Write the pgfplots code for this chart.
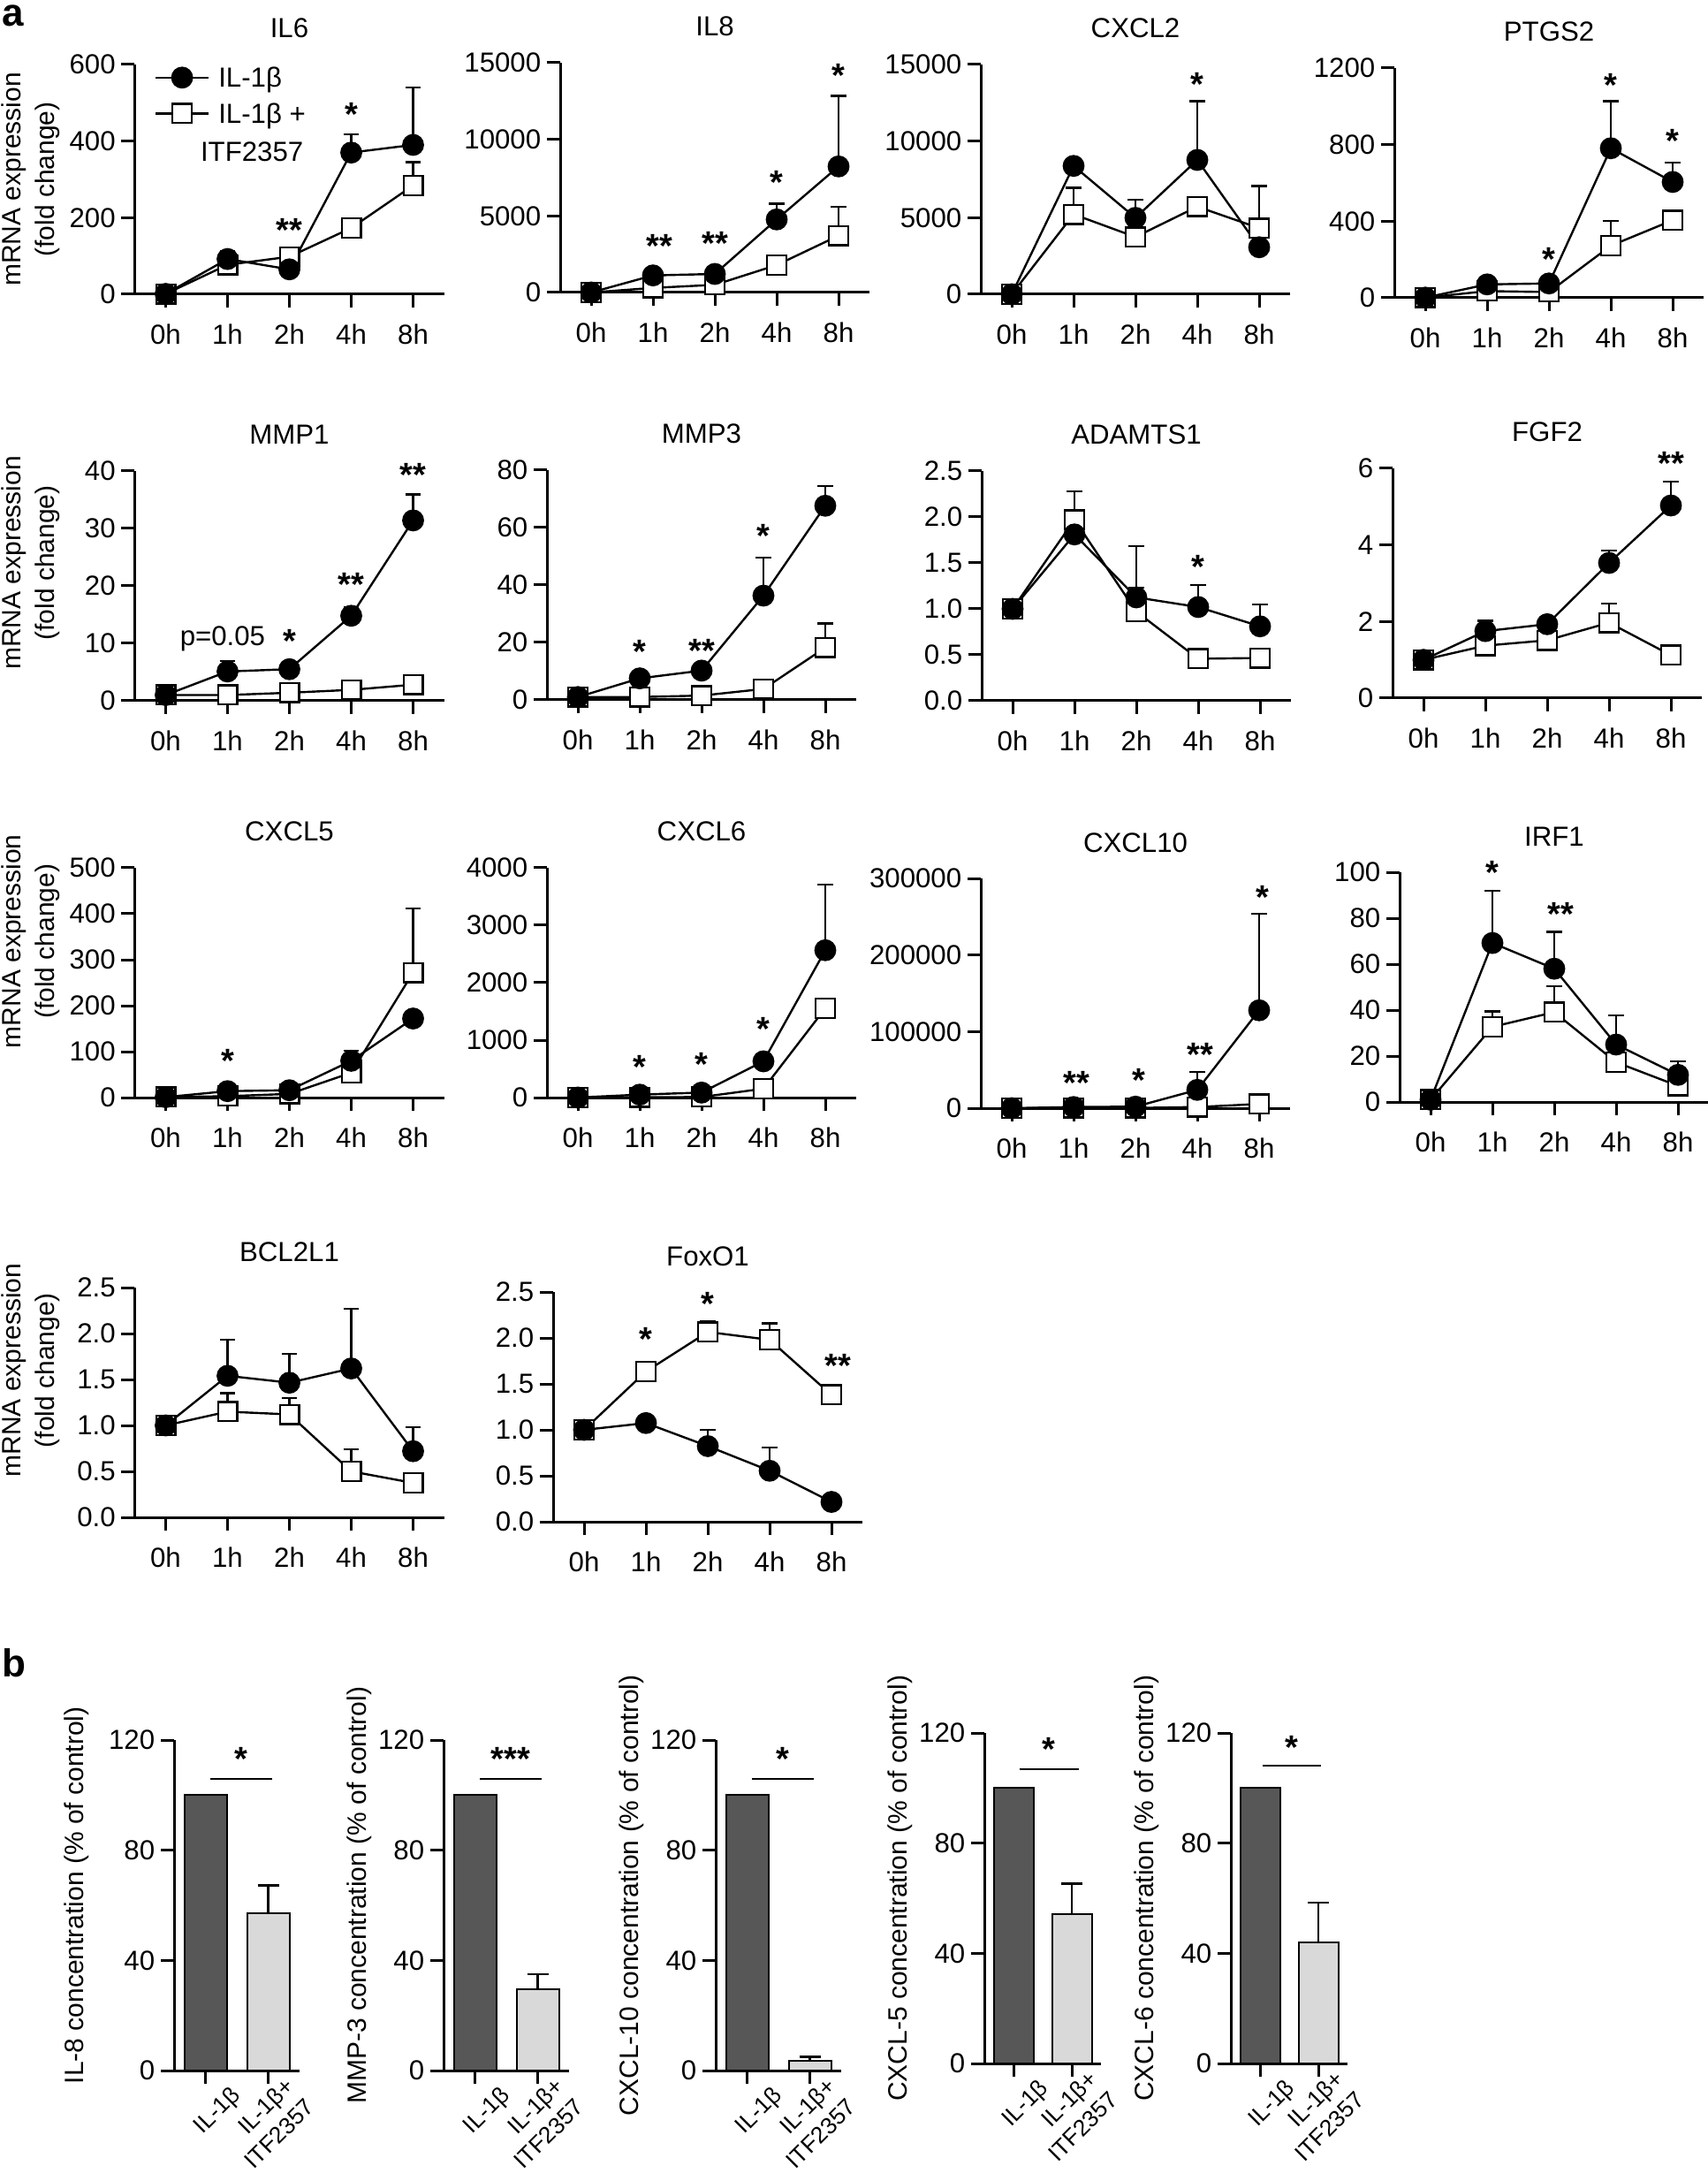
\documentclass[border=0pt]{standalone}
\usepackage{fontspec}
\setmainfont{Liberation Sans}
\usepackage{pgfplots}
\usepackage{pgfplotstable}
\pgfplotsset{compat=1.18}
\newcommand\tk{\fontsize{7.8}{9}\selectfont}
\newcommand\tkb{\fontsize{6.6}{8.2}\selectfont}
\newcommand\lab{\fontsize{7.5}{9.5}\selectfont}
\newcommand\stf{\bfseries\fontsize{9.5}{10}\selectfont}
\definecolor{bardark}{HTML}{575757}
\definecolor{barlight}{HTML}{D9D9D9}

% x: 0h,1h,2h,4h,8h -> 0..4 ; c = IL-1b (circles), s = IL-1b+ITF2357 (squares)
\pgfplotstableread{
x c ce s se
0 1 0 1 0
1 92 21 77 0
2 65 0 98 0
3 370 48 173 0
4 390 150 284 61
}\tA
\pgfplotstableread{
x c ce s se
0 1 0 1 0
1 1115 0 300 0
2 1211 0 500 0
3 4770 1020 1790 0
4 8230 4600 3710 1900
}\tB
\pgfplotstableread{
x c ce s se
0 1 0 1 0
1 8380 0 5220 1740
2 4990 1190 3740 0
3 8770 3830 5720 0
4 3070 0 4320 2740
}\tC
\pgfplotstableread{
x c ce s se
0 1 0 1 0
1 70 0 35 0
2 75 0 30 0
3 781 246 272 130
4 605 102 405 49
}\tD
\pgfplotstableread{
x c ce s se
0 1 0 1 0
1 5.1 1.8 1.0 0
2 5.5 0 1.4 0
3 14.8 1.4 1.9 0
4 31.4 4.5 2.8 0
}\tE
\pgfplotstableread{
x c ce s se
0 1 0 1 0
1 7.5 2.4 1.0 0
2 10.2 0 1.5 0
3 36.3 13.2 3.8 0
4 67.6 6.8 18.2 8.4
}\tF
\pgfplotstableread{
x c ce s se
0 1 0 1 0
1 1.81 0 1.97 0.31
2 1.125 0.56 0.97 0.26
3 1.02 0.24 0.457 0
4 0.81 0.24 0.466 0
}\tG
\pgfplotstableread{
x c ce s se
0 1 0 1 0
1 1.75 0.27 1.37 0
2 1.93 0 1.51 0
3 3.53 0.33 1.97 0.5
4 5.03 0.63 1.12 0
}\tH
\pgfplotstableread{
x c ce s se
0 1 0 1 0
1 14 0 3 0
2 16 0 8 0
3 80 22 54 0
4 172 0 272 140
}\tI
\pgfplotstableread{
x c ce s se
0 1 0 1 0
1 51 0 5 0
2 87 0 10 0
3 631 0 154 0
4 2565 1139 1554 0
}\tJ
\pgfplotstableread{
x c ce s se
0 1 0 1 0
1 1500 0 200 0
2 2000 0 300 0
3 23900 23100 1500 0
4 127800 125900 5500 0
}\tK
\pgfplotstableread{
x c ce s se
0 1 0 1 0
1 69.2 22.8 32.7 6.8
2 58 16 39.1 11.3
3 25 12.8 17.3 0
4 11.8 5.8 7 0
}\tL
\pgfplotstableread{
x c ce s se
0 1 0 1 0
1 1.54 0.39 1.15 0.2
2 1.465 0.315 1.12 0.18
3 1.62 0.65 0.50 0.24
4 0.72 0.26 0.375 0
}\tM
\pgfplotstableread{
x c ce s se
0 1 0 1 0
1 1.074 0 1.635 0
2 0.823 0.18 2.065 0.12
3 0.555 0.25 1.98 0.18
4 0.216 0 1.38 0
}\tN

\tikzset{st/.style={font=\stf, inner sep=0pt, anchor=center, yshift=-1.8pt}}
\pgfplotsset{
  gpbase/.style={
    scale only axis, clip=false, anchor=south west,
    axis x line*=bottom, axis y line*=left,
    axis line style={-, line width=0.75pt, black},
    tick style={line width=0.75pt, black},
    tick align=outside, major tick length=3.75pt,
    minor tick num=0, scaled y ticks=false,
    ticklabel style={font=\tk},
    yticklabel style={inner sep=0pt, xshift=-1.5pt},
    ymin=0,
    every axis title/.style={at={(0.5,1)}, anchor=base, yshift=7.5pt, font=\tk},
  },
  gpa/.style={gpbase, width=87.5pt, height=65pt, xmin=-0.5, xmax=4.5,
    xtick={0,1,2,3,4}, xticklabels={0h,1h,2h,4h,8h},
    xticklabel style={inner sep=0pt, text height=5.58pt, text depth=0pt, yshift=-4.6pt}},
  rowlab/.style={ylabel={mRNA expression\\(fold change)},
    every axis y label/.style={at={(axis description cs:0,#1)}, xshift=-29.4pt, rotate=90, anchor=center, align=center, font=\lab}},
  gpb/.style={gpbase, height=93.5pt, xmin=-0.5, xmax=1.5, ymax=120,
    ytick={0,40,80,120}, yticklabels={0,40,80,120},
    xtick={0,1}, xticklabels={IL-1β,{IL-1β+\\ITF2357}},
    xticklabel style={xshift=9pt, yshift=-2.3pt, rotate=45, anchor=east, align=right, inner sep=0pt, font=\tkb},
    every axis y label/.style={at={(axis description cs:0,0.53)}, xshift=#1, rotate=90, anchor=center, font=\lab}},
  gpb/.default={-23.75pt},
  circ/.style={black, solid, line width=0.6pt, mark=*, mark size=2.8pt, mark options={solid, fill=black, line width=0.6pt}},
  sq/.style={black, solid, line width=0.6pt, mark=square*, mark size=2.7pt, mark options={solid, fill=white, line width=0.6pt}},
  errs/.style={forget plot, draw=none, mark=none,
    error bars/y dir=plus, error bars/y explicit,
    error bars/error bar style={draw=black, line width=0.6pt, solid},
    error bars/error mark options={draw=black, rotate=90, mark size=2.2pt, line width=0.6pt}},
  legend image code/.code={\draw[mark repeat=2, mark phase=2, #1] plot coordinates {(0pt,0pt) (7.5pt,0pt) (15pt,0pt)};},
}
\newcommand\series[1]{%
  \addplot[errs] table[x=x,y=s,y error=se]{#1};
  \addplot[sq, forget plot] table[x=x,y=s]{#1};
  \addplot[errs] table[x=x,y=c,y error=ce]{#1};
  \addplot[circ, forget plot] table[x=x,y=c]{#1};
}
\newcommand\barpair[3]{% bar width, value, error
  \addplot[ybar, bar width=#1, fill=bardark, draw=black, line width=0.5pt, forget plot] coordinates {(0,100)};
  \addplot[ybar, bar width=#1, fill=barlight, draw=black, line width=0.5pt, forget plot,
    error bars/y dir=plus, error bars/y explicit,
    error bars/error bar style={draw=black, line width=0.6pt},
    error bars/error mark options={draw=black, rotate=90, mark size=3pt, line width=0.6pt}]
    coordinates {(1,#2) +- (0,#3)};
}

\begin{document}
\begin{tikzpicture}
\useasboundingbox (0,0) rectangle (483pt,-617pt);
\node[anchor=base west, inner sep=0pt, font=\bfseries\fontsize{11}{13}\selectfont] at (2*0.25pt,-30*0.25pt) {a};
\node[anchor=base west, inner sep=0pt, font=\bfseries\fontsize{11}{13}\selectfont] at (2*0.25pt,-1897*0.25pt) {b};

% ---------- row 1
\begin{axis}[gpa, rowlab=0.5, at={(152.5*0.25pt,-333*0.25pt)}, title={IL6}, ymax=600,
  ytick={0,200,400,600}, yticklabels={0,200,400,600},
  legend style={at={(0.064,0.986)}, anchor=north west, draw=none, fill=none, inner sep=0pt, outer sep=0pt,
    row sep=4.55pt, column sep=2.5pt, font=\tk, nodes={inner sep=0pt, text height=5.58pt, text depth=0pt}},
  legend cell align=left]
\addlegendimage{circ}\addlegendentry{IL-1β}
\addlegendimage{sq}\addlegendentry{IL-1β +}
\series{\tA}
\node[st] at (axis cs:2,184) {**};
\node[st] at (axis cs:3,487) {*};
\node[font=\tk, inner sep=0pt, anchor=east] at (axis cs:2.236,371.5) {ITF2357};
\end{axis}

\begin{axis}[gpa, at={(634*0.25pt,-331*0.25pt)}, title={IL8}, ymax=15000,
  ytick={0,5000,10000,15000}, yticklabels={0,5000,10000,15000}]
\series{\tB}
\node[st] at (axis cs:1.1,3420) {**};
\node[st] at (axis cs:2,3610) {**};
\node[st] at (axis cs:3,7600) {*};
\node[st] at (axis cs:4,14580) {*};
\end{axis}

\begin{axis}[gpa, at={(1110*0.25pt,-333*0.25pt)}, title={CXCL2}, ymax=15000,
  ytick={0,5000,10000,15000}, yticklabels={0,5000,10000,15000}]
\series{\tC}
\node[st] at (axis cs:3,14100) {*};
\end{axis}

\begin{axis}[gpa, at={(1578*0.25pt,-337*0.25pt)}, title={PTGS2}, ymax=1200,
  ytick={0,400,800,1200}, yticklabels={0,400,800,1200}]
\series{\tD}
\node[st] at (axis cs:2,233) {*};
\node[st] at (axis cs:3,1142) {*};
\node[st] at (axis cs:4,852) {*};
\end{axis}

% ---------- row 2
\begin{axis}[gpa, rowlab=0.6, at={(152.5*0.25pt,-793*0.25pt)}, title={MMP1}, ymax=40,
  ytick={0,10,20,30,40}, yticklabels={0,10,20,30,40}]
\series{\tE}
\node[font=\tk, inner sep=0pt] at (axis cs:0.92,10.8) {p=0.05};
\node[st] at (axis cs:2,11.5) {*};
\node[st] at (axis cs:3,21.3) {**};
\node[st] at (axis cs:4,40.5) {**};
\end{axis}

\begin{axis}[gpa, at={(619*0.25pt,-792*0.25pt)}, title={MMP3}, ymax=80,
  ytick={0,20,40,60,80}, yticklabels={0,20,40,60,80}]
\series{\tF}
\node[st] at (axis cs:1,18.9) {*};
\node[st] at (axis cs:2,19.4) {**};
\node[st] at (axis cs:3,59.2) {*};
\end{axis}

\begin{axis}[gpa, at={(1111*0.25pt,-793*0.25pt)}, title={ADAMTS1}, ymax=2.5,
  ytick={0,0.5,1,1.5,2,2.5}, yticklabels={0.0,0.5,1.0,1.5,2.0,2.5}]
\series{\tG}
\node[st] at (axis cs:3,1.53) {*};
\end{axis}

\begin{axis}[gpa, at={(1576*0.25pt,-790*0.25pt)}, title={FGF2}, ymax=6,
  ytick={0,2,4,6}, yticklabels={0,2,4,6}]
\series{\tH}
\node[st] at (axis cs:4,6.3) {**};
\end{axis}

% ---------- row 3
\begin{axis}[gpa, rowlab=0.68, at={(152.5*0.25pt,-1242*0.25pt)}, title={CXCL5}, ymax=500,
  ytick={0,100,200,300,400,500}, yticklabels={0,100,200,300,400,500}]
\series{\tI}
\node[st] at (axis cs:1,93) {*};
\end{axis}

\begin{axis}[gpa, at={(619*0.25pt,-1242*0.25pt)}, title={CXCL6}, ymax=4000,
  ytick={0,1000,2000,3000,4000}, yticklabels={0,1000,2000,3000,4000}]
\series{\tJ}
\node[st] at (axis cs:1,650) {*};
\node[st] at (axis cs:2,693) {*};
\node[st] at (axis cs:3,1308) {*};
\end{axis}

\begin{axis}[gpa, at={(1110*0.25pt,-1254*0.25pt)}, title={CXCL10}, ymax=300000,
  ytick={0,100000,200000,300000}, yticklabels={0,100000,200000,300000}]
\series{\tK}
\node[st] at (axis cs:1.05,41200) {**};
\node[st] at (axis cs:2.05,45000) {*};
\node[st] at (axis cs:3.05,77800) {**};
\node[st] at (axis cs:4.05,283800) {*};
\end{axis}

\begin{axis}[gpa, at={(1584*0.25pt,-1247*0.25pt)}, title={IRF1}, ymax=100,
  ytick={0,20,40,60,80,100}, yticklabels={0,20,40,60,80,100}]
\series{\tL}
\node[st] at (axis cs:1,102.6) {*};
\node[st] at (axis cs:2.1,84.6) {**};
\end{axis}

% ---------- row 4
\begin{axis}[gpa, rowlab=0.64, at={(152.5*0.25pt,-1717*0.25pt)}, title={BCL2L1}, ymax=2.5,
  ytick={0,0.5,1,1.5,2,2.5}, yticklabels={0.0,0.5,1.0,1.5,2.0,2.5}]
\series{\tM}
\end{axis}

\begin{axis}[gpa, at={(626*0.25pt,-1722*0.25pt)}, title={FoxO1}, ymax=2.5,
  ytick={0,0.5,1,1.5,2,2.5}, yticklabels={0.0,0.5,1.0,1.5,2.0,2.5}]
\series{\tN}
\node[st] at (axis cs:1,2.06) {*};
\node[st] at (axis cs:2,2.44) {*};
\node[st] at (axis cs:4.1,1.77) {**};
\end{axis}

% ---------- panel b
\begin{axis}[gpb=-27.5pt, width=35.5pt, at={(197*0.25pt,-2343*0.25pt)}, ylabel={IL-8 concentration (\% of control)}]
\barpair{12pt}{57.1}{10.1}
\addplot[black, line width=0.5pt, mark=none, forget plot] coordinates {(0.08,106) (1.06,106)};
\node[st] at (axis cs:0.57,115.5) {*};
\end{axis}

\begin{axis}[gpb, width=35.5pt, at={(502*0.25pt,-2343*0.25pt)}, ylabel={MMP-3 concentration (\% of control)}]
\barpair{12pt}{29.5}{5.5}
\addplot[black, line width=0.5pt, mark=none, forget plot] coordinates {(0.08,106) (1.06,106)};
\node[st] at (axis cs:0.57,115.5) {***};
\end{axis}

\begin{axis}[gpb, width=35.5pt, at={(810*0.25pt,-2343*0.25pt)}, ylabel={CXCL-10 concentration (\% of control)}]
\barpair{12pt}{3.6}{1.4}
\addplot[black, line width=0.5pt, mark=none, forget plot] coordinates {(0.08,106) (1.06,106)};
\node[st] at (axis cs:0.57,115.5) {*};
\end{axis}

\begin{axis}[gpb, width=33pt, at={(1114*0.25pt,-2335*0.25pt)}, ylabel={CXCL-5 concentration (\% of control)}]
\barpair{11.25pt}{54.1}{11.2}
\addplot[black, line width=0.5pt, mark=none, forget plot] coordinates {(0.1,107) (1.12,107)};
\node[st] at (axis cs:0.6,116.5) {*};
\end{axis}

\begin{axis}[gpb, width=33pt, at={(1393*0.25pt,-2335*0.25pt)}, ylabel={CXCL-6 concentration (\% of control)}]
\barpair{11.25pt}{44}{14.5}
\addplot[black, line width=0.5pt, mark=none, forget plot] coordinates {(0.05,108) (1.05,108)};
\node[st] at (axis cs:0.55,117) {*};
\end{axis}
\end{tikzpicture}
\end{document}
